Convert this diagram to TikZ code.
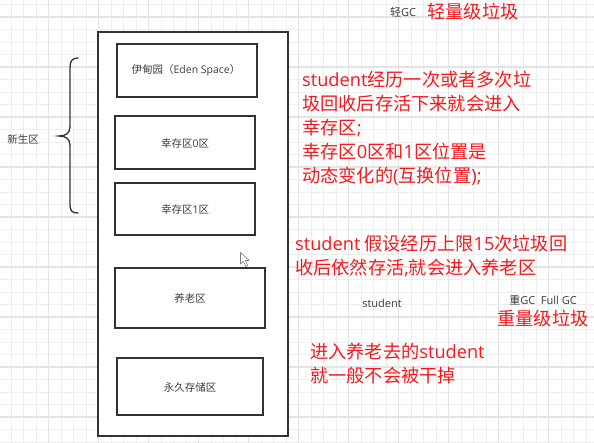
\documentclass[tikz,border=0pt]{standalone}
\usepackage{fontspec}
\newfontfamily\cjk{Noto Sans CJK SC}
\newfontfamily\latn{Open Sans}
\newcommand{\lt}[1]{{\latn #1}}
\definecolor{gridminor}{RGB}{238,238,238}
\definecolor{gridmajor}{RGB}{228,228,228}
\definecolor{boxline}{RGB}{50,50,50}
\definecolor{graytext}{RGB}{60,60,60}
\definecolor{notered}{RGB}{245,25,30}
\begin{document}
\begin{tikzpicture}[x=1pt,y=-1pt,
  region/.style={draw=boxline,line width=1.3pt,fill=white,inner sep=0pt},
  boxtext/.style={font=\cjk\fontsize{10.5}{12}\selectfont,text=graytext},
  smalltext/.style={font=\cjk\fontsize{11}{13}\selectfont,text=graytext,inner sep=0pt},
  rednote/.style={font=\cjk\fontsize{18.2}{24}\selectfont,text=notered,align=left,inner sep=0pt,anchor=west},
  redlabel/.style={font=\cjk\fontsize{18.2}{20}\selectfont,text=notered,inner sep=0pt}]
\useasboundingbox (0,0) rectangle (594,442);
\fill[white] (0,0) rectangle (594,442);
% grid
\foreach \k in {0,...,46} {
  \pgfmathsetmacro\gx{11+12.5*\k}
  \draw[gridminor,line width=1pt] (\gx,0) -- (\gx,442);
}
\foreach \k in {0,...,35} {
  \pgfmathsetmacro\gy{4.5+12.5*\k}
  \draw[gridminor,line width=1pt] (0,\gy) -- (594,\gy);
}
\foreach \k in {0,...,11} {
  \pgfmathsetmacro\gx{-1.7+50*\k}
  \draw[gridmajor,line width=1.6pt] (\gx,0) -- (\gx,442);
}
\foreach \k in {0,...,8} {
  \pgfmathsetmacro\gy{17+50*\k}
  \draw[gridmajor,line width=1.6pt] (0,\gy) -- (594,\gy);
}
% outer heap rectangle
\draw[region] (98,32) rectangle (288,436);
% regions
\draw[region] (117,44) rectangle (257,97);
\node[boxtext] (eden) at (186,70.5) {伊甸园（\lt{Eden Space}）};
\draw[region] (115,116) rectangle (255,169);
\node[boxtext] (s0) at (185,143.5) {幸存区\lt{0}区};
\draw[region] (115,183) rectangle (255,235);
\node[boxtext] (s1) at (185,209.5) {幸存区\lt{1}区};
\draw[region] (115,268) rectangle (265,328);
\node[boxtext] (old) at (190,298) {养老区};
\draw[region] (117,358) rectangle (263,415);
\node[boxtext] (perm) at (190,387.5) {永久存储区};
% brace
\draw[boxline,line width=1.3pt,line cap=round]
  (78,58) .. controls (72,58) and (70,61) .. (70,68) -- (70,127)
  .. controls (70,133) and (66,136) .. (59,136)
  .. controls (66,136) and (70,139) .. (70,145) -- (70,204)
  .. controls (70,211) and (72,213) .. (78,213);
\node[boxtext] (young) at (23,139) {新生区};
% cursor
\draw[gray,fill=white,line width=0.6pt,line join=round]
  (240.5,252.5) -- (240.5,264) -- (243.3,261.3) -- (245.8,266.5) -- (247.8,265.6) -- (245.4,260.5) -- (249.2,260.5) -- cycle;
% labels
\node[smalltext] (lightgc) at (403,12) {轻\lt{GC}};
\node[redlabel] (lightred) at (473,12) {轻量级垃圾};
\node[rednote] (note1) at (302,128.5) {\lt{student}经历一次或者多次垃\\圾回收后存活下来就会进入\\幸存区\lt{;}\\幸存区\lt{0}区和\lt{1}区位置是\\动态变化的\lt{(}互换位置\lt{);}};
\node[rednote] (note2) at (295,256) {\lt{student} 假设经历上限\lt{15}次垃圾回\\收后依然存活\lt{,}就会进入养老区};
\node[smalltext] (stu) at (382,303) {\lt{student}};
\node[smalltext] (fullgc) at (543,300) {重\lt{GC\ \ Full GC}};
\node[redlabel] (heavyred) at (543,319) {重量级垃圾};
\node[rednote] (note3) at (310,363.5) {进入养老去的\lt{student}\\就一般不会被干掉};
\end{tikzpicture}
\end{document}
